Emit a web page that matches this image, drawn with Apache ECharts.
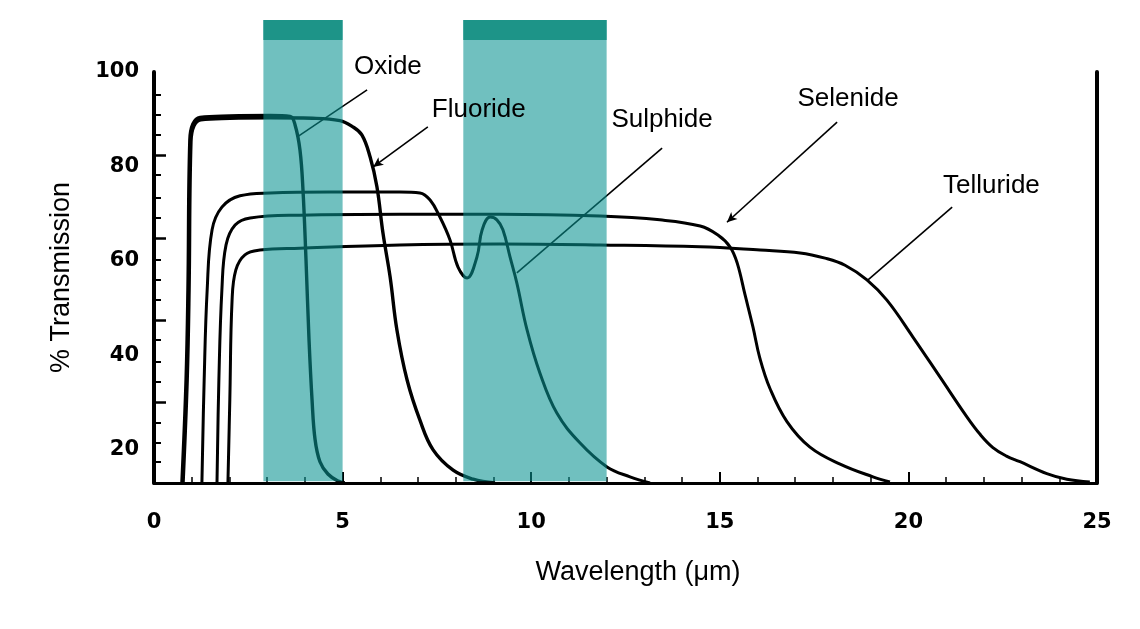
<!DOCTYPE html>
<html><head><meta charset="utf-8">
<script src="https://cdn.jsdelivr.net/npm/echarts@6/dist/echarts.min.js"></script>
<style>html,body{margin:0;padding:0;background:#fff}#c{width:1140px;height:629px}</style>
</head><body><div id="c"></div>
<script>
// ---- axis ticks / labels ----
const xTickLabels = [0, 5, 10, 15, 20, 25];
const yTickLabels = [20, 40, 60, 80, 100];
const yMinorTicks = [95.1, 90.9, 86.7, 78.2, 73.3, 69.1, 60.2, 56.0, 51.7, 43.3, 38.6, 34.4, 25.7, 21.5, 17.5];
const yMajorTicks = [82.4, 64.9, 47.5, 30.1];

// ---- transmission windows (µm) ----
const bandStart = [2.9, 8.2];
const bandEnd = [5.0, 12.0];

// ---- curves: wavelength (µm) and % transmission ----
const oxideWl = [0.74, 0.85, 0.90, 0.95, 1.03, 1.22, 2.01, 3.08, 3.61, 3.74, 3.87, 3.95, 4.03, 4.11, 4.19, 4.27, 4.40, 4.61, 4.88, 5.06];
const oxideT  = [13, 34.8, 53.9, 85.6, 89.0, 90.4, 90.7, 90.8, 90.6, 88.8, 83.5, 75.0, 60.2, 43.3, 30.6, 22.2, 17.5, 14.9, 13.4, 13];

const fluorideWl = [0.77, 0.88, 0.93, 0.98, 1.06, 1.24, 2.01, 3.08, 4.20, 4.93, 5.25, 5.51, 5.73, 5.91, 6.07, 6.26, 6.44, 6.71, 7.05, 7.40, 7.93, 8.46, 9.04];
const fluorideT  = [13, 34.8, 53.9, 85.3, 88.6, 89.9, 90.2, 90.3, 90.2, 89.7, 88.5, 86.7, 82.0, 75.7, 65.9, 56.6, 45.4, 34.8, 26.3, 20.0, 15.7, 13.8, 13];

const sulphideWl = [1.27, 1.33, 1.41, 1.54, 1.80, 2.28, 3.08, 4.67, 6.52, 7.05, 7.32, 7.58, 7.85, 8.06, 8.30, 8.56, 8.70, 8.91, 9.09, 9.25, 9.44, 9.62, 9.89, 10.23, 10.68, 11.29, 12.01, 12.62, 13.15];
const sulphideT  = [13, 34.8, 53.9, 66.6, 71.4, 73.8, 74.4, 74.6, 74.6, 74.4, 72.9, 69.3, 64.4, 58.7, 56.4, 60.8, 66.6, 69.3, 68.7, 66.6, 60.8, 55.3, 45.4, 36.3, 27.8, 21.5, 16.4, 14.3, 13];

const selenideWl = [1.67, 1.72, 1.80, 1.91, 2.15, 2.55, 3.87, 6.52, 9.17, 11.82, 13.41, 14.48, 14.95, 15.27, 15.46, 15.67, 15.88, 16.06, 16.33, 16.78, 17.39, 18.19, 19.06, 19.51];
const selenideT  = [13, 34.8, 53.9, 63.4, 67.6, 69.1, 69.7, 69.9, 69.9, 69.5, 68.7, 67.4, 65.5, 63.0, 59.6, 52.8, 46.0, 39.5, 33.0, 26.0, 20.6, 17.0, 14.3, 13.2];

const tellurideWl = [1.96, 2.01, 2.07, 2.17, 2.41, 2.81, 3.87, 6.52, 9.17, 11.82, 14.48, 16.07, 17.13, 17.79, 18.32, 18.90, 19.43, 20.12, 20.84, 21.55, 21.90, 22.24, 22.60, 22.96, 23.67, 24.20, 24.81];
const tellurideT  = [13, 30.6, 51.7, 58.1, 61.3, 62.3, 62.7, 63.4, 63.6, 63.4, 63.0, 62.3, 61.7, 60.6, 59.1, 56.0, 51.7, 43.9, 35.4, 27.0, 23.3, 20.5, 18.7, 17.5, 15.0, 13.8, 13.2];

// ---- annotation labels and pointer lines ----
const labelNames = ['Oxide', 'Fluoride', 'Sulphide', 'Selenide', 'Telluride'];
const labelAt = [[6.2, 101.1], [8.61, 91.9], [13.47, 89.8], [18.4, 94.3], [22.2, 75.9]];
const pointerFrom = [[5.65, 96.2], [7.26, 88.4], [13.47, 83.9], [18.11, 89.4], [21.16, 71.4]];
const pointerTo = [[3.79, 86.2], [5.81, 79.9], [9.62, 57.5], [15.19, 68.2], [18.93, 56.0]];
const pointerArrow = [false, true, false, true, false];

const Y_MIN = 13, Y_MAX = 100;
const zip = (a, b) => a.map((v, i) => [v, b[i]]);
const curves = [
  zip(oxideWl, oxideT), zip(fluorideWl, fluorideT), zip(sulphideWl, sulphideT),
  zip(selenideWl, selenideT), zip(tellurideWl, tellurideT)
];

const chart = echarts.init(document.getElementById('c'), null, {renderer: 'canvas'});

const lineSeries = curves.map((d, i) => ({
  type: 'line', name: labelNames[i], data: d, showSymbol: false, smooth: 0.4,
  z: 3, silent: true,
  lineStyle: {color: '#000', width: i < 2 ? 3.4 : 3},
  markLine: {
    silent: true, animation: false,
    symbol: ['none', 'none'],
    label: {show: false},
    lineStyle: {color: '#000', width: 1.6, type: 'solid'},
    data: [[
      {coord: pointerFrom[i], symbol: 'none'},
      {coord: pointerTo[i], symbol: pointerArrow[i] ? 'arrow' : 'none', symbolSize: [7, 10]}
    ]]
  }
}));

const option = {
  animation: false,
  backgroundColor: '#fff',
  grid: {left: 154, right: 43, top: 72, bottom: 146, containLabel: false},
  xAxis: {
    type: 'value', min: 0, max: 25, interval: 5,
    name: 'Wavelength (μm)', nameLocation: 'middle', nameGap: 76,
    nameTextStyle: {fontFamily: 'Liberation Sans', fontSize: 27, color: '#000', padding: [0, 0, 0, 25]},
    axisLine: {show: true, lineStyle: {color: '#000', width: 3}},
    axisTick: {show: true, inside: true, length: 11, lineStyle: {color: '#000', width: 2}},
    minorTick: {show: true, splitNumber: 5, length: 6, lineStyle: {color: '#000', width: 1.5}},
    splitLine: {show: false},
    axisLabel: {
      customValues: xTickLabels, margin: 29, color: '#000',
      fontFamily: 'DejaVu Sans', fontWeight: 'bold', fontSize: 21
    }
  },
  yAxis: [
    {
      type: 'value', min: Y_MIN, max: Y_MAX, position: 'left',
      name: '% Transmission', nameLocation: 'middle', nameGap: 79, nameRotate: 90,
      nameTextStyle: {fontFamily: 'Liberation Sans', fontSize: 27, color: '#000'},
      axisLine: {show: true, lineStyle: {color: '#000', width: 4}},
      axisTick: {show: true, inside: true, length: 7, customValues: yMinorTicks, lineStyle: {color: '#000', width: 2}},
      splitLine: {show: false},
      axisLabel: {
        customValues: yTickLabels, margin: 15, color: '#000',
        fontFamily: 'DejaVu Sans', fontWeight: 'bold', fontSize: 21
      }
    },
    {
      type: 'value', min: Y_MIN, max: Y_MAX, position: 'right',
      axisLine: {show: true, onZero: false, lineStyle: {color: '#000', width: 4}},
      axisTick: {show: false}, axisLabel: {show: false}, splitLine: {show: false}
    },
    {
      type: 'value', min: Y_MIN, max: Y_MAX, position: 'left',
      axisLine: {show: false},
      axisTick: {show: true, inside: true, length: 12, customValues: yMajorTicks, lineStyle: {color: '#000', width: 2.5}},
      axisLabel: {show: false}, splitLine: {show: false}
    }
  ],
  series: lineSeries.concat([{
    type: 'custom', name: 'windows', z: 10, silent: true, clip: false,
    data: bandStart.map((s, i) => [s, bandEnd[i]]),
    encode: {x: [0, 1]},
    renderItem: (params, api) => {
      const x0 = api.value(0), x1 = api.value(1);
      const pb = api.coord([x0, 13.35]);
      const pt = api.coord([x1, 111.0]);
      const ps = api.coord([x1, 106.8]);
      return {
        type: 'group', children: [
          {type: 'rect', shape: {x: pb[0], y: pt[1], width: pt[0] - pb[0], height: pb[1] - pt[1]},
           style: {fill: 'rgba(9,147,145,0.58)'}},
          {type: 'rect', shape: {x: pb[0], y: pt[1], width: pt[0] - pb[0], height: ps[1] - pt[1]},
           style: {fill: '#1d9488'}}
        ]
      };
    }
  }])
};
chart.setOption(option);

const graphics = labelNames.map((t, i) => {
  const p = chart.convertToPixel({xAxisIndex: 0, yAxisIndex: 0}, labelAt[i]);
  return {
    type: 'text', x: p[0], y: p[1], z: 20, silent: true,
    style: {text: t, fill: '#000', font: '26px "Liberation Sans", Arial, sans-serif', align: 'center', verticalAlign: 'middle'}
  };
});
chart.setOption({graphic: graphics});
</script>
</body></html>
